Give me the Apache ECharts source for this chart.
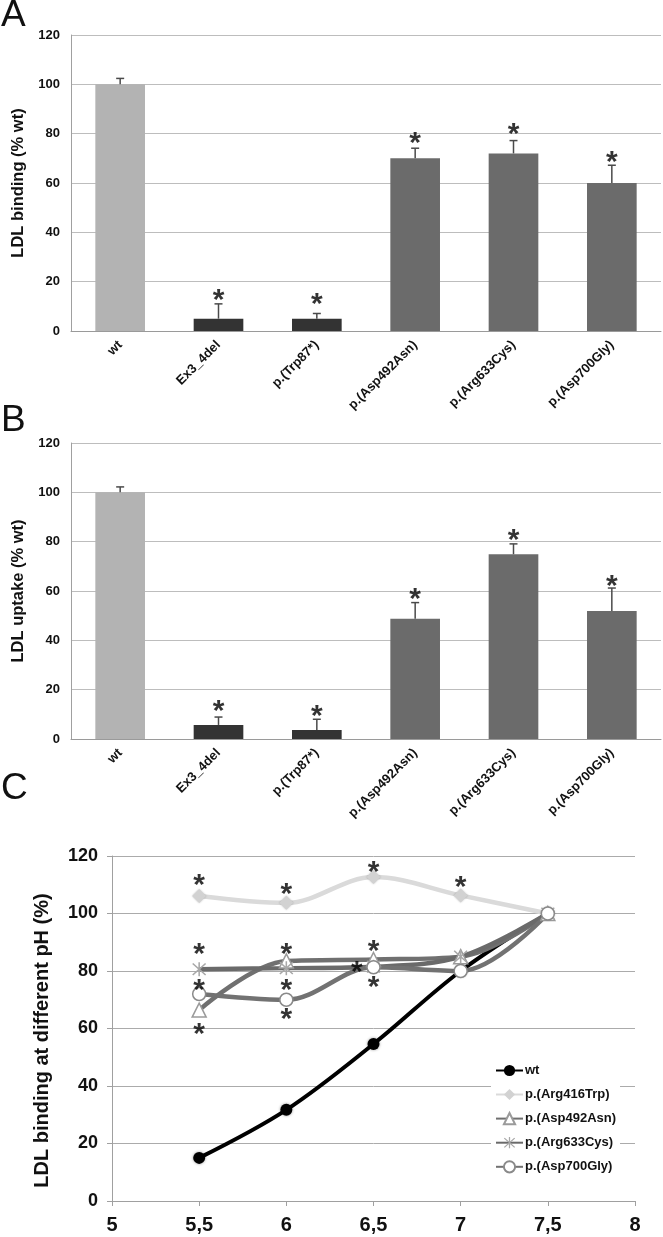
<!DOCTYPE html>
<html>
<head>
<meta charset="utf-8">
<script src="https://cdn.jsdelivr.net/npm/echarts@6/dist/echarts.min.js"></script>
<style>
  html, body { margin: 0; padding: 0; background: #fff; }
  #main { width: 663px; height: 1237px; }
</style>
</head>
<body>
<div id="main"></div>
<script>
// panels A and B: categories and bar values
var categories = ['wt', 'Ex3_4del', 'p.(Trp87*)', 'p.(Asp492Asn)', 'p.(Arg633Cys)', 'p.(Asp700Gly)'];
var barColors = ['#b3b3b3', '#333333', '#333333', '#6b6b6b', '#6b6b6b', '#6b6b6b'];

var bindingValues = [100, 5, 5, 70, 72, 60];
var bindingErrors = [2.4, 6, 2.1, 4.1, 5.2, 7.2];
var bindingStars = [null, 15.2, 13.6, 79.1, 82.7, 71.3];

var uptakeValues = [100, 5.7, 3.6, 48.8, 74.9, 51.9];
var uptakeErrors = [2.2, 3.2, 4.4, 6.5, 4.2, 9.3];
var uptakeStars = [null, 14.2, 12, 59.5, 83.4, 64.9];

// panel C: binding at different pH
var pH = [5.5, 6, 6.5, 7, 7.5];
var wtPH = [15, 31.7, 54.6, 80, 100];
var arg416PH = [106.1, 103.7, 112.7, 106.3, 100];
var asp492PH = [66.4, 83.5, 84, 85, 100];
var arg633PH = [80.6, 81, 81.5, 85, 100];
var asp700PH = [72, 70, 81.3, 80, 100];
var starsC = [[5.5, 112.1], [6, 109.2], [6.5, 116.8], [7, 111.5],
  [5.5, 88.2], [5.5, 75.9], [5.5, 60.6],
  [6, 88.4], [6, 75.7], [6, 65.5],
  [6.5, 89.3], [6.405, 82], [6.5, 76.8]];

var FONT = "'Liberation Sans', Arial, sans-serif";
var starSize = 30;

function pairs(xs, ys) {
  var res = [];
  for (var i = 0; i < xs.length; i++) res.push([xs[i], ys[i]]);
  return res;
}

function barData(values) {
  return values.map(function (v, i) {
    return { value: v, itemStyle: { color: barColors[i] } };
  });
}

function errData(values, errors) {
  return values.map(function (v, i) { return [i, v, errors[i]]; });
}

function starData(stars) {
  var res = [];
  for (var i = 0; i < stars.length; i++) {
    if (stars[i] != null) res.push([i, stars[i]]);
  }
  return res;
}

function renderErr(params, api) {
  var x = api.value(0), v = api.value(1), e = api.value(2);
  var p0 = api.coord([x, v]);
  var p1 = api.coord([x, v + e]);
  var st = { stroke: '#4a4a4a', lineWidth: 1.5 };
  return {
    type: 'group',
    children: [
      { type: 'line', shape: { x1: p0[0], y1: p0[1], x2: p1[0], y2: p1[1] }, style: st },
      { type: 'line', shape: { x1: p1[0] - 4, y1: p1[1], x2: p1[0] + 4, y2: p1[1] }, style: st }
    ]
  };
}

var starLabel = {
  show: true,
  position: 'inside',
  formatter: '*',
  color: '#000',
  fontSize: starSize,
  fontWeight: 'bold',
  fontFamily: FONT,
  offset: [0, starSize * 0.25]
};

function catX(gridIndex) {
  return {
    type: 'category',
    gridIndex: gridIndex,
    data: categories,
    axisLine: { lineStyle: { color: '#9a9a9a', width: 1 } },
    axisTick: { show: false },
    axisLabel: {
      rotate: 45,
      interval: 0,
      margin: 12,
      color: '#111',
      fontSize: 13,
      fontWeight: 'bold',
      fontFamily: FONT
    }
  };
}

function barY(gridIndex, name) {
  return {
    type: 'value',
    gridIndex: gridIndex,
    min: 0, max: 120, interval: 20,
    name: name,
    nameLocation: 'middle',
    nameGap: 38,
    nameTextStyle: { color: '#111', fontSize: 16.5, fontWeight: 'bold', fontFamily: FONT },
    axisLine: { show: true, lineStyle: { color: '#a0a0a0', width: 1 } },
    axisTick: { show: false },
    splitLine: { lineStyle: { color: '#bdbdbd', width: 1 } },
    axisLabel: { color: '#111', fontSize: 13, fontWeight: 'bold', fontFamily: FONT, margin: 11 }
  };
}

// asterisk like symbol (X plus vertical bar)
var starSymbol = 'path://M9,0L11,0L11,20L9,20Z M1,2.4L2.4,1L19,17.6L17.6,19Z M17.6,1L19,2.4L2.4,19L1,17.6Z';

var chart = echarts.init(document.getElementById('main'));

var option = {
  animation: false,
  backgroundColor: '#fff',
  textStyle: { fontFamily: FONT },
  graphic: [
    { type: 'text', left: 1, top: -3, style: { text: 'A', fontSize: 37, fontFamily: FONT, fill: '#111' } },
    { type: 'text', left: 1, top: 402, style: { text: 'B', fontSize: 37, fontFamily: FONT, fill: '#111' } },
    { type: 'text', left: 1, top: 770, style: { text: 'C', fontSize: 37, fontFamily: FONT, fill: '#111' } }
  ],
  grid: [
    { left: 71, right: 2, top: 35, height: 296 },
    { left: 71, right: 2, top: 443, height: 296 },
    { left: 112, right: 28, top: 856, height: 345 }
  ],
  xAxis: [
    catX(0),
    catX(1),
    {
      type: 'value',
      gridIndex: 2,
      min: 5, max: 8, interval: 0.5,
      axisLine: { lineStyle: { color: '#a0a0a0', width: 1 } },
      axisTick: { show: true, length: 5, lineStyle: { color: '#a0a0a0' } },
      splitLine: { show: false },
      axisLabel: {
        color: '#111', fontSize: 20, fontWeight: 'bold', fontFamily: FONT, margin: 14,
        formatter: function (v) { return String(v).replace('.', ','); }
      }
    }
  ],
  yAxis: [
    barY(0, 'LDL binding (% wt)'),
    barY(1, 'LDL uptake (% wt)'),
    {
      type: 'value',
      gridIndex: 2,
      min: 0, max: 120, interval: 20,
      name: 'LDL binding at different pH (%)',
      nameLocation: 'middle',
      nameGap: 60,
      nameTextStyle: { color: '#111', fontSize: 20, fontWeight: 'bold', fontFamily: FONT, padding: [0, 24, 0, 0] },
      axisLine: { show: true, lineStyle: { color: '#a0a0a0', width: 1 } },
      axisTick: { show: true, length: 5, lineStyle: { color: '#a0a0a0' } },
      splitLine: { lineStyle: { color: '#ababab', width: 1 } },
      axisLabel: { color: '#111', fontSize: 18, fontWeight: 'bold', fontFamily: FONT, margin: 14 }
    }
  ],
  legend: {
    orient: 'vertical',
    left: 491,
    top: 1058,
    padding: [6, 4, 6, 4],
    backgroundColor: '#fff',
    itemWidth: 27,
    itemHeight: 14,
    itemGap: 11,
    textStyle: { color: '#111', fontSize: 13, fontWeight: 'bold', fontFamily: FONT, padding: [0, 0, 0, -3] },
    data: ['wt', 'p.(Arg416Trp)', 'p.(Asp492Asn)', 'p.(Arg633Cys)', 'p.(Asp700Gly)']
  },
  series: [
    // panel A
    { type: 'bar', xAxisIndex: 0, yAxisIndex: 0, barWidth: '50.5%', data: barData(bindingValues) },
    { type: 'custom', xAxisIndex: 0, yAxisIndex: 0, renderItem: renderErr, data: errData(bindingValues, bindingErrors), z: 3 },
    { type: 'scatter', xAxisIndex: 0, yAxisIndex: 0, symbolSize: 0, label: starLabel, data: starData(bindingStars), z: 4 },
    // panel B
    { type: 'bar', xAxisIndex: 1, yAxisIndex: 1, barWidth: '50.5%', data: barData(uptakeValues) },
    { type: 'custom', xAxisIndex: 1, yAxisIndex: 1, renderItem: renderErr, data: errData(uptakeValues, uptakeErrors), z: 3 },
    { type: 'scatter', xAxisIndex: 1, yAxisIndex: 1, symbolSize: 0, label: starLabel, data: starData(uptakeStars), z: 4 },
    // panel C
    {
      name: 'wt', type: 'line', xAxisIndex: 2, yAxisIndex: 2, smooth: 0.35,
      data: pairs(pH, wtPH),
      symbol: 'circle', symbolSize: 12,
      lineStyle: { color: '#000', width: 4 },
      itemStyle: { color: '#000', shadowBlur: 3, shadowColor: 'rgba(0,0,0,0.4)' }
    },
    {
      name: 'p.(Arg416Trp)', type: 'line', xAxisIndex: 2, yAxisIndex: 2, smooth: 0.35,
      data: pairs(pH, arg416PH),
      symbol: 'diamond', symbolSize: 14,
      lineStyle: { color: '#dadada', width: 4.5 },
      itemStyle: { color: '#d2d2d2', shadowBlur: 2, shadowColor: 'rgba(0,0,0,0.25)' }
    },
    {
      name: 'p.(Asp492Asn)', type: 'line', xAxisIndex: 2, yAxisIndex: 2, smooth: 0.35,
      data: pairs(pH, asp492PH),
      symbol: 'triangle', symbolSize: 14,
      lineStyle: { color: '#707070', width: 4.5 },
      itemStyle: { color: '#fff', borderColor: '#9a9a9a', borderWidth: 1.5 }
    },
    {
      name: 'p.(Arg633Cys)', type: 'line', xAxisIndex: 2, yAxisIndex: 2, smooth: 0.35,
      data: pairs(pH, arg633PH),
      symbol: starSymbol, symbolSize: 14,
      lineStyle: { color: '#6a6a6a', width: 4.5 },
      itemStyle: { color: '#a8a8a8' }
    },
    {
      name: 'p.(Asp700Gly)', type: 'line', xAxisIndex: 2, yAxisIndex: 2, smooth: 0.35,
      data: pairs(pH, asp700PH),
      symbol: 'circle', symbolSize: 13,
      lineStyle: { color: '#727272', width: 4.5 },
      itemStyle: { color: '#fff', borderColor: '#8a8a8a', borderWidth: 1.5 }
    },
    { type: 'scatter', xAxisIndex: 2, yAxisIndex: 2, symbolSize: 0, label: starLabel, data: starsC, z: 6 }
  ]
};

chart.setOption(option);
</script>
</body>
</html>
